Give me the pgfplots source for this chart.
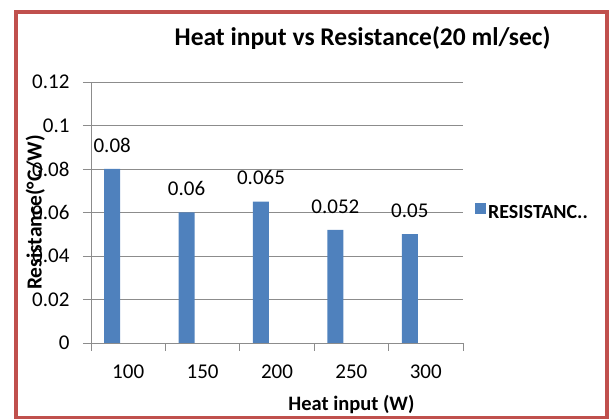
\documentclass[border=0pt]{standalone}
\usepackage{fontspec}
\setmainfont{Carlito}
\usepackage{pgfplots}
\pgfplotsset{compat=1.18}
\definecolor{barblue}{HTML}{4F81BD}
\definecolor{framered}{HTML}{C0504D}
\definecolor{gridgray}{HTML}{8C8C8C}
\begin{document}
\begin{tikzpicture}
\begin{axis}[
  at={(0pt,0pt)}, anchor=south west, scale only axis,
  width=372pt, height=261pt,
  xmin=-0.5, xmax=4.5, ymin=0, ymax=0.12,
  axis x line=bottom, axis y line=left,
  axis line style={draw=gridgray, line width=0.8pt, -},
  tick align=outside,
  xtick={0,1,2,3,4}, xticklabels={100,150,200,250,300},
  major x tick style={draw=none},
  minor xtick={-0.5,0.5,1.5,2.5,3.5,4.5},
  minor x tick style={draw=gridgray, line width=0.8pt},
  minor tick length=8pt,
  ytick={0,0.02,0.04,0.06,0.08,0.1,0.12},
  yticklabels={0,0.02,0.04,0.06,0.08,0.1,0.12},
  major y tick style={draw=gridgray, line width=0.8pt},
  major tick length=8pt,
  ymajorgrids, grid style={draw=gridgray, line width=0.8pt},
  ticklabel style={font=\fontsize{21}{25}\selectfont, text=black},
  xticklabel style={yshift=-10pt},
  yticklabel style={xshift=-10pt},
  ybar, bar width=16pt, bar shift=-16pt,
  nodes near coords, point meta=explicit symbolic,
  nodes near coords style={font=\fontsize{21}{25}\selectfont, text=black, yshift=13pt},
  title={\bfseries Heat input vs Resistance(20 ml/sec)},
  title style={font=\fontsize{25.5}{30}\selectfont, at={(axis description cs:0.730,1.145)}, anchor=center},
  xlabel={\bfseries Heat input (W)},
  xlabel style={font=\fontsize{20.5}{24}\selectfont, at={(axis description cs:0.70,-0.2375)}, anchor=center},
  ylabel={\bfseries Resistance(°C/W)},
  ylabel style={font=\fontsize{21.5}{25}\selectfont, at={(axis description cs:-0.150,0.5)}, anchor=center},
  legend style={at={(axis description cs:1.032,0.5)}, anchor=west, draw=none, fill=none,
    font=\fontsize{20}{24}\selectfont\bfseries, inner sep=0pt},
  legend image code/.code={\fill[barblue] (0pt,-1pt) rectangle (11pt,10pt);},
  clip=false,
]
\addplot[fill=barblue, draw=none] coordinates {
  (0,0.08)[0.08] (1,0.06)[0.06] (2,0.065)[0.065] (3,0.052)[0.052] (4,0.05)[0.05]
};
\addlegendentry{RESISTANC..}
\end{axis}
\pgfresetboundingbox
\useasboundingbox (-91pt,-76pt) rectangle (521pt,343pt);
\draw[framered, line width=4pt] (-75pt,-75pt) rectangle (516pt,331pt);
\end{tikzpicture}
\end{document}
